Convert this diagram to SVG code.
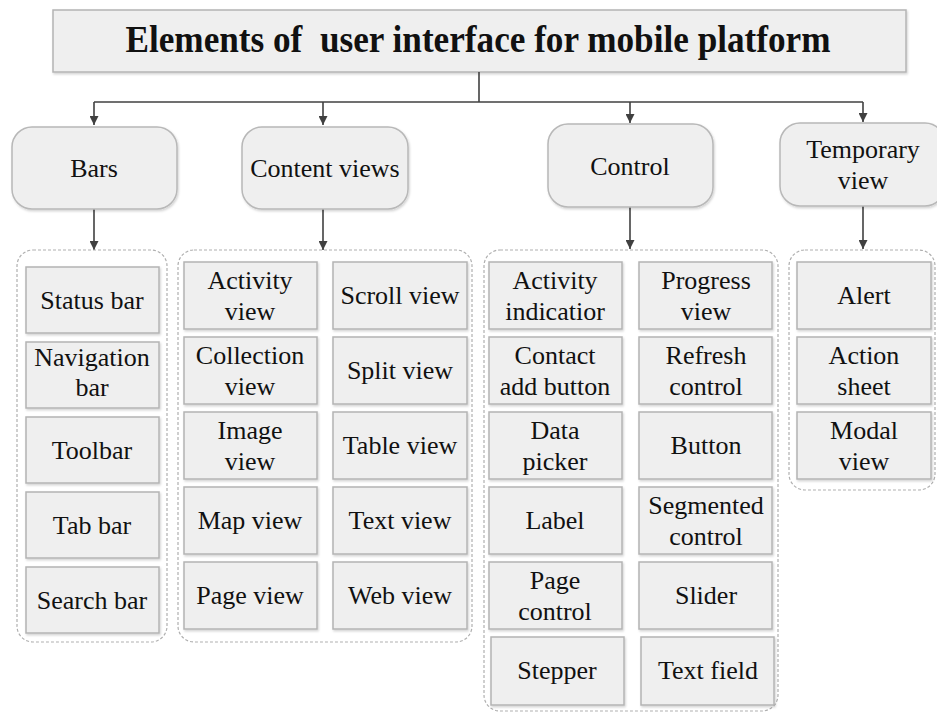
<svg xmlns="http://www.w3.org/2000/svg" width="937" height="713" viewBox="0 0 937 713">
  <defs>
    <marker id="arrow" viewBox="0 0 10 10" refX="10" refY="5" markerWidth="9" markerHeight="9" markerUnits="userSpaceOnUse" orient="auto">
      <path d="M0,0 L10,5 L0,10 z" fill="#404040"/>
    </marker>
    <filter id="shadow" x="-5%" y="-5%" width="115%" height="120%">
      <feDropShadow dx="1" dy="1.5" stdDeviation="1" flood-color="#000" flood-opacity="0.18"/>
    </filter>
  </defs>
  <style>
    text { font-family: "Liberation Serif", "Times New Roman", serif; fill: #111; text-anchor: middle; }
    .title { font-size: 37px; font-weight: bold; white-space: pre; }
    .cat { font-size: 26px; }
    .item { font-size: 26px; }
    .box { fill: #efefef; stroke: #b4b4b4; stroke-width: 1.5; filter: url(#shadow); }
    .catbox { fill: #efefef; stroke: #b8b8b8; stroke-width: 1.5; filter: url(#shadow); }
    .group { fill: none; stroke: #b0b0b0; stroke-width: 1.2; stroke-dasharray: 3 2; }
    .conn { fill: none; stroke: #404040; stroke-width: 1.6; }
  </style>
  <rect width="937" height="713" fill="#ffffff"/>

  <!-- root -->
  <g id="root">
    <rect class="box" x="53" y="10" width="853" height="62"/>
    <text class="title" x="478" y="52" textLength="705" lengthAdjust="spacingAndGlyphs" xml:space="preserve">Elements of  user interface for mobile platform</text>
  </g>

  <!-- connectors -->
  <g id="connectors">
    <path class="conn" d="M479,72 V102"/>
    <path class="conn" d="M94,102 H863"/>
    <path class="conn" d="M94,102 V125" marker-end="url(#arrow)"/>
    <path class="conn" d="M323,102 V125" marker-end="url(#arrow)"/>
    <path class="conn" d="M630,102 V123" marker-end="url(#arrow)"/>
    <path class="conn" d="M863,102 V122" marker-end="url(#arrow)"/>
    <path class="conn" d="M94,209 V250" marker-end="url(#arrow)"/>
    <path class="conn" d="M323,209 V250" marker-end="url(#arrow)"/>
    <path class="conn" d="M630,207 V249" marker-end="url(#arrow)"/>
    <path class="conn" d="M863,206 V249" marker-end="url(#arrow)"/>
  </g>

  <!-- categories -->
  <g id="cat-bars">
    <rect class="catbox" x="12" y="127" width="165" height="82" rx="20"/>
    <text class="cat" x="94" y="177">Bars</text>
  </g>
  <g id="cat-content">
    <rect class="catbox" x="242" y="127" width="166" height="82" rx="20"/>
    <text class="cat" x="325" y="177">Content views</text>
  </g>
  <g id="cat-control">
    <rect class="catbox" x="548" y="124" width="165" height="83" rx="20"/>
    <text class="cat" x="630" y="175">Control</text>
  </g>
  <g id="cat-temporary">
    <rect class="catbox" x="780" y="123" width="165" height="83" rx="20"/>
    <text class="cat" x="863" y="158">Temporary</text>
    <text class="cat" x="863" y="189">view</text>
  </g>

  <!-- dashed groups -->
  <g id="groups">
    <rect class="group" x="17" y="250" width="150" height="392" rx="16"/>
    <rect class="group" x="178" y="250" width="294" height="392" rx="16"/>
    <rect class="group" x="484" y="250" width="294" height="461" rx="16"/>
    <rect class="group" x="789" y="250" width="146" height="240" rx="16"/>
  </g>

  <!-- Bars items -->
  <g id="status-bar"><rect class="box" x="26" y="267" width="133" height="66"/><text class="item" x="92" y="309">Status bar</text></g>
  <g id="navigation-bar"><rect class="box" x="26" y="342" width="133" height="66"/><text class="item" x="92" y="366">Navigation</text><text class="item" x="92" y="396">bar</text></g>
  <g id="toolbar"><rect class="box" x="26" y="417" width="133" height="66"/><text class="item" x="92" y="459">Toolbar</text></g>
  <g id="tab-bar"><rect class="box" x="26" y="492" width="133" height="66"/><text class="item" x="92" y="534">Tab bar</text></g>
  <g id="search-bar"><rect class="box" x="26" y="567" width="133" height="66"/><text class="item" x="92" y="609">Search bar</text></g>

  <!-- Content views items -->
  <g id="activity-view"><rect class="box" x="184" y="262" width="133" height="67"/><text class="item" x="250" y="289">Activity</text><text class="item" x="250" y="320">view</text></g>
  <g id="collection-view"><rect class="box" x="184" y="337" width="133" height="67"/><text class="item" x="250" y="364">Collection</text><text class="item" x="250" y="395">view</text></g>
  <g id="image-view"><rect class="box" x="184" y="412" width="133" height="67"/><text class="item" x="250" y="439">Image</text><text class="item" x="250" y="470">view</text></g>
  <g id="map-view"><rect class="box" x="184" y="487" width="133" height="67"/><text class="item" x="250" y="529">Map view</text></g>
  <g id="page-view"><rect class="box" x="184" y="562" width="133" height="67"/><text class="item" x="250" y="604">Page view</text></g>
  <g id="scroll-view"><rect class="box" x="333" y="262" width="134" height="67"/><text class="item" x="400" y="304">Scroll view</text></g>
  <g id="split-view"><rect class="box" x="333" y="337" width="134" height="67"/><text class="item" x="400" y="379">Split view</text></g>
  <g id="table-view"><rect class="box" x="333" y="412" width="134" height="67"/><text class="item" x="400" y="454">Table view</text></g>
  <g id="text-view"><rect class="box" x="333" y="487" width="134" height="67"/><text class="item" x="400" y="529">Text view</text></g>
  <g id="web-view"><rect class="box" x="333" y="562" width="134" height="67"/><text class="item" x="400" y="604">Web view</text></g>

  <!-- Control items -->
  <g id="activity-indicator"><rect class="box" x="489" y="262" width="133" height="67"/><text class="item" x="555" y="289">Activity</text><text class="item" x="555" y="320">indicatior</text></g>
  <g id="contact-add-button"><rect class="box" x="489" y="337" width="133" height="67"/><text class="item" x="555" y="364">Contact</text><text class="item" x="555" y="395">add button</text></g>
  <g id="data-picker"><rect class="box" x="489" y="412" width="133" height="67"/><text class="item" x="555" y="439">Data</text><text class="item" x="555" y="470">picker</text></g>
  <g id="label"><rect class="box" x="489" y="487" width="133" height="67"/><text class="item" x="555" y="529">Label</text></g>
  <g id="page-control"><rect class="box" x="489" y="562" width="133" height="67"/><text class="item" x="555" y="589">Page</text><text class="item" x="555" y="620">control</text></g>
  <g id="stepper"><rect class="box" x="491" y="637" width="133" height="68"/><text class="item" x="557" y="679">Stepper</text></g>
  <g id="progress-view"><rect class="box" x="639" y="262" width="133" height="67"/><text class="item" x="706" y="289">Progress</text><text class="item" x="706" y="320">view</text></g>
  <g id="refresh-control"><rect class="box" x="639" y="337" width="133" height="67"/><text class="item" x="706" y="364">Refresh</text><text class="item" x="706" y="395">control</text></g>
  <g id="button"><rect class="box" x="639" y="412" width="133" height="67"/><text class="item" x="706" y="454">Button</text></g>
  <g id="segmented-control"><rect class="box" x="639" y="487" width="133" height="67"/><text class="item" x="706" y="514">Segmented</text><text class="item" x="706" y="545">control</text></g>
  <g id="slider"><rect class="box" x="639" y="562" width="133" height="67"/><text class="item" x="706" y="604">Slider</text></g>
  <g id="text-field"><rect class="box" x="641" y="637" width="133" height="68"/><text class="item" x="708" y="679">Text field</text></g>

  <!-- Temporary view items -->
  <g id="alert"><rect class="box" x="797" y="262" width="134" height="67"/><text class="item" x="864" y="304">Alert</text></g>
  <g id="action-sheet"><rect class="box" x="797" y="337" width="134" height="67"/><text class="item" x="864" y="364">Action</text><text class="item" x="864" y="395">sheet</text></g>
  <g id="modal-view"><rect class="box" x="797" y="412" width="134" height="67"/><text class="item" x="864" y="439">Modal</text><text class="item" x="864" y="470">view</text></g>
</svg>
